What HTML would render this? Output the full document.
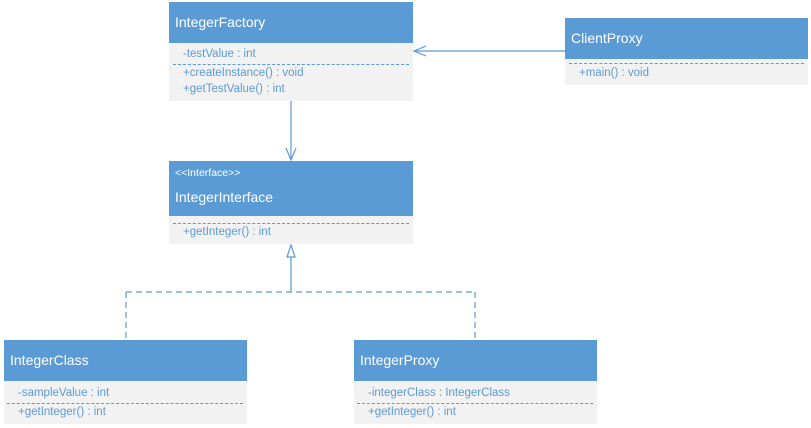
<!DOCTYPE html>
<html><head><style>
body{margin:0;width:811px;height:428px;background:#fff;position:relative;overflow:hidden;font-family:"Liberation Sans",sans-serif}
.h{position:absolute;background:#5b9bd5;color:#fff;font-size:14px;box-sizing:border-box;padding-left:6px}
.b{position:absolute;background:#f2f2f2;color:#5b9bd5;font-size:11.5px;box-sizing:border-box}
.r{position:absolute;left:14px;white-space:nowrap}
.d{position:absolute;left:4px;right:4px;border-top:1px dashed #5b9bd5}
</style></head><body>
<svg width="811" height="428" style="position:absolute;left:0;top:0">
<g stroke="#5b9bd5" fill="none" stroke-width="1.2">
<line x1="291" y1="101" x2="291" y2="160"/>
<polyline points="286,148 291,160 296,148"/>
<line x1="565" y1="51" x2="414" y2="51"/>
<polyline points="426,46 414,51 426,56"/>
<line x1="291" y1="256" x2="291" y2="292"/>
<polygon points="291,245 287,257 295,257" fill="#fff"/>
<g stroke-dasharray="6,4">
<line x1="126" y1="292" x2="475" y2="292"/>
<line x1="126" y1="292" x2="126" y2="340"/>
<line x1="475" y1="292" x2="475" y2="340"/>
</g></g></svg>

<div class="h" style="left:169px;top:2px;width:244px;height:41px;line-height:41px">IntegerFactory</div>
<div class="b" style="left:169px;top:43px;width:244px;height:58px">
<div class="r" style="top:5px">-testValue : int</div>
<div class="d" style="top:21px"></div>
<div class="r" style="top:24px">+createInstance() : void</div>
<div class="r" style="top:40px">+getTestValue() : int</div></div>

<div class="h" style="left:565px;top:18px;width:243px;height:41px;line-height:41px">ClientProxy</div>
<div class="b" style="left:565px;top:59px;width:243px;height:26px">
<div class="d" style="top:4px"></div>
<div class="r" style="top:8px">+main() : void</div></div>

<div class="h" style="left:169px;top:161px;width:244px;height:55px"><div style="font-size:10.5px;position:absolute;top:6px">&lt;&lt;Interface&gt;&gt;</div><div style="position:absolute;top:28px">IntegerInterface</div></div>
<div class="b" style="left:169px;top:216px;width:244px;height:28px">
<div class="d" style="top:7px"></div>
<div class="r" style="top:10px">+getInteger() : int</div></div>

<div class="h" style="left:4px;top:340px;width:243px;height:41px;line-height:41px">IntegerClass</div>
<div class="b" style="left:4px;top:381px;width:243px;height:43px">
<div class="r" style="top:6px">-sampleValue : int</div>
<div class="d" style="top:22px;left:3px"></div>
<div class="r" style="top:25px">+getInteger() : int</div></div>

<div class="h" style="left:354px;top:340px;width:243px;height:41px;line-height:41px">IntegerProxy</div>
<div class="b" style="left:354px;top:381px;width:243px;height:43px">
<div class="r" style="top:6px">-integerClass : IntegerClass</div>
<div class="d" style="top:22px;left:3px"></div>
<div class="r" style="top:25px">+getInteger() : int</div></div>
</body></html>
